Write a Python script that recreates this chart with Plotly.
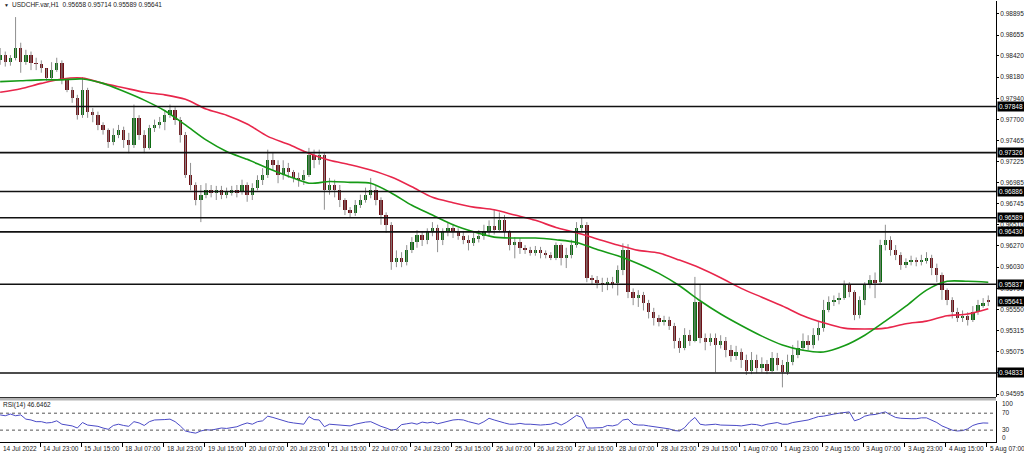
import plotly.graph_objects as go

symbol_name = "USDCHF.var,H1"
last_bar_ohlc = [0.95658, 0.95714, 0.95589, 0.95641]
rsi_title = "RSI(14) 46.6462"

# two-hour candles, prices in pips (1e-4)
open_pips = [
    9837, 9843, 9835, 9840, 9851, 9835, 9843, 9834, 9833, 9828,
    9817, 9826, 9834, 9815, 9803, 9794, 9775, 9803, 9779, 9775,
    9764, 9758, 9745, 9753, 9758, 9747, 9741, 9772, 9753, 9738,
    9760, 9764, 9767, 9775, 9781, 9770, 9753, 9707, 9696, 9679,
    9685, 9690, 9687, 9690, 9685, 9688, 9690, 9688, 9696, 9685,
    9693, 9702, 9707, 9724, 9719, 9707, 9715, 9711, 9704, 9702,
    9707, 9730, 9724, 9730, 9690, 9696, 9690, 9679, 9668, 9664,
    9673, 9679, 9685, 9690, 9679, 9662, 9651, 9609, 9613, 9609,
    9622, 9631, 9639, 9634, 9643, 9647, 9634, 9643, 9647, 9643,
    9638, 9634, 9630, 9636, 9638, 9643, 9650, 9645, 9656, 9643,
    9628, 9631, 9625, 9622, 9620, 9622, 9619, 9617, 9613, 9628,
    9613, 9617, 9628, 9647, 9651, 9591, 9588, 9585, 9583, 9586,
    9585, 9600, 9622, 9575, 9568, 9571, 9562, 9552, 9545, 9541,
    9543, 9537, 9520, 9511, 9526, 9520, 9564, 9523, 9518, 9523,
    9515, 9520, 9509, 9502, 9507, 9498, 9486, 9498, 9489, 9493,
    9486, 9500, 9492, 9484, 9496, 9504, 9511, 9520, 9515, 9526,
    9534, 9554, 9564, 9566, 9568, 9583, 9575, 9549, 9566, 9583,
    9588, 9586, 9628, 9634, 9622, 9617, 9605, 9609, 9611, 9609,
    9611, 9613, 9602, 9594, 9577, 9566, 9552, 9545, 9548, 9543,
    9552, 9560, 9566,
]
high_pips = [
    9851, 9847, 9843, 9886, 9857, 9849, 9847, 9840, 9837, 9828,
    9835, 9840, 9837, 9817, 9807, 9798, 9818, 9806, 9783, 9779,
    9767, 9760, 9760, 9764, 9762, 9755, 9787, 9775, 9758, 9764,
    9770, 9773, 9781, 9787, 9784, 9773, 9756, 9721, 9699, 9696,
    9698, 9696, 9695, 9695, 9693, 9695, 9696, 9702, 9699, 9698,
    9707, 9715, 9736, 9733, 9724, 9724, 9721, 9713, 9710, 9713,
    9738, 9736, 9736, 9732, 9704, 9702, 9696, 9681, 9671, 9679,
    9685, 9693, 9704, 9695, 9682, 9665, 9654, 9622, 9620, 9628,
    9637, 9645, 9643, 9647, 9654, 9651, 9647, 9654, 9652, 9647,
    9644, 9639, 9642, 9645, 9651, 9656, 9668, 9665, 9662, 9645,
    9637, 9636, 9628, 9626, 9627, 9626, 9622, 9620, 9631, 9630,
    9625, 9634, 9654, 9659, 9654, 9594, 9593, 9591, 9591, 9592,
    9605, 9630, 9629, 9579, 9577, 9575, 9566, 9557, 9549, 9548,
    9547, 9540, 9523, 9534, 9532, 9592, 9583, 9528, 9528, 9528,
    9526, 9524, 9515, 9514, 9511, 9504, 9507, 9504, 9501, 9498,
    9507, 9506, 9498, 9504, 9515, 9520, 9528, 9526, 9534, 9541,
    9566, 9570, 9571, 9574, 9588, 9586, 9577, 9570, 9586, 9594,
    9597, 9634, 9651, 9638, 9628, 9620, 9613, 9616, 9614, 9617,
    9620, 9617, 9607, 9597, 9579, 9569, 9557, 9554, 9552, 9559,
    9566, 9568, 9571,
]
low_pips = [
    9832, 9830, 9831, 9837, 9823, 9832, 9826, 9826, 9823, 9814,
    9815, 9824, 9810, 9801, 9789, 9770, 9772, 9772, 9767, 9758,
    9753, 9738, 9741, 9749, 9738, 9732, 9738, 9747, 9732, 9736,
    9756, 9760, 9758, 9772, 9764, 9744, 9704, 9690, 9673, 9654,
    9681, 9682, 9679, 9680, 9681, 9684, 9682, 9685, 9677, 9679,
    9690, 9696, 9704, 9713, 9698, 9702, 9704, 9699, 9694, 9696,
    9705, 9715, 9719, 9668, 9685, 9682, 9671, 9662, 9659, 9661,
    9670, 9676, 9681, 9673, 9651, 9642, 9600, 9603, 9603, 9605,
    9619, 9625, 9627, 9629, 9638, 9620, 9628, 9638, 9636, 9634,
    9629, 9622, 9627, 9631, 9634, 9638, 9640, 9643, 9637, 9622,
    9613, 9618, 9618, 9616, 9616, 9613, 9613, 9611, 9611, 9605,
    9602, 9613, 9625, 9643, 9586, 9584, 9579, 9575, 9577, 9579,
    9571, 9594, 9568, 9560, 9558, 9554, 9545, 9537, 9536, 9537,
    9532, 9511, 9506, 9509, 9514, 9518, 9517, 9509, 9514, 9484,
    9511, 9501, 9496, 9498, 9489, 9481, 9482, 9483, 9484, 9482,
    9484, 9486, 9467, 9481, 9492, 9500, 9509, 9509, 9511, 9520,
    9530, 9552, 9559, 9561, 9566, 9569, 9543, 9545, 9560, 9579,
    9568, 9583, 9622, 9616, 9611, 9600, 9602, 9605, 9604, 9605,
    9607, 9594, 9586, 9566, 9560, 9545, 9541, 9541, 9537, 9541,
    9549, 9557, 9559,
]
close_pips = [
    9843, 9835, 9840, 9851, 9835, 9843, 9834, 9833, 9828, 9817,
    9826, 9834, 9815, 9803, 9794, 9775, 9803, 9779, 9775, 9764,
    9758, 9745, 9753, 9758, 9747, 9741, 9772, 9753, 9738, 9760,
    9764, 9767, 9775, 9781, 9770, 9753, 9707, 9696, 9679, 9685,
    9690, 9687, 9690, 9685, 9688, 9690, 9688, 9696, 9685, 9693,
    9702, 9707, 9724, 9719, 9707, 9715, 9711, 9704, 9702, 9707,
    9730, 9724, 9730, 9690, 9696, 9690, 9679, 9668, 9664, 9673,
    9679, 9685, 9690, 9679, 9662, 9651, 9609, 9613, 9609, 9622,
    9631, 9639, 9634, 9643, 9647, 9634, 9643, 9647, 9643, 9638,
    9634, 9630, 9636, 9638, 9643, 9650, 9645, 9656, 9643, 9628,
    9631, 9625, 9622, 9620, 9622, 9619, 9617, 9613, 9628, 9613,
    9617, 9628, 9647, 9651, 9591, 9588, 9585, 9583, 9586, 9585,
    9600, 9622, 9575, 9568, 9571, 9562, 9552, 9545, 9541, 9543,
    9537, 9520, 9511, 9526, 9520, 9564, 9523, 9518, 9523, 9515,
    9520, 9509, 9502, 9507, 9498, 9486, 9498, 9489, 9493, 9486,
    9500, 9492, 9484, 9496, 9504, 9511, 9520, 9515, 9526, 9534,
    9554, 9564, 9566, 9568, 9583, 9575, 9549, 9566, 9583, 9588,
    9586, 9628, 9634, 9622, 9617, 9605, 9609, 9611, 9609, 9611,
    9613, 9602, 9594, 9577, 9566, 9552, 9545, 9548, 9543, 9552,
    9560, 9562, 9564,
]

# moving averages sampled every 8 hours, pips
ma_fast_pips = [
    9813, 9814, 9815, 9815, 9816, 9811, 9802, 9792, 9780, 9764,
    9747, 9734, 9725, 9715, 9706, 9698, 9700, 9699, 9698, 9687,
    9673, 9662, 9651, 9643, 9637, 9636, 9636, 9634, 9631, 9623,
    9616, 9607, 9596, 9582, 9565, 9550, 9537, 9525, 9515, 9509,
    9507, 9514, 9526, 9542, 9559, 9577, 9587, 9587, 9586,
]
ma_slow_pips = [
    9801, 9805, 9811, 9816, 9817, 9811, 9806, 9801, 9798, 9793,
    9782, 9775, 9765, 9751, 9742, 9732, 9724, 9719, 9713, 9705,
    9694, 9682, 9676, 9671, 9668, 9662, 9656, 9648, 9642, 9635,
    9628, 9622, 9619, 9611, 9602, 9591, 9579, 9569, 9559, 9548,
    9540, 9534, 9533, 9534, 9539, 9542, 9548, 9550, 9556,
]

# RSI(14), one value per two-hour candle
rsi_values = [
    66, 64, 68, 64, 66, 56, 54, 50, 50, 47,
    48, 52, 44, 42, 40, 35, 48, 42, 41, 39,
    35, 32, 41, 44, 41, 39, 50, 47, 41, 50,
    54, 54, 55, 56, 50, 40, 28, 25, 23, 28,
    31, 30, 33, 35, 34, 36, 38, 43, 47, 44,
    50, 52, 63, 60, 56, 52, 49, 47, 45, 44,
    62, 55, 54, 38, 44, 43, 41, 40, 40, 44,
    47, 49, 50, 44, 39, 35, 30, 32, 43, 45,
    47, 44, 49, 47, 49, 45, 48, 50, 54, 55,
    54, 50, 47, 44, 50, 58, 54, 50, 47, 44,
    44, 46, 44, 44, 43, 42, 43, 44, 48, 42,
    48, 56, 65, 60, 35, 35, 36, 36, 41, 40,
    43, 54, 56, 44, 42, 42, 40, 38, 36, 35,
    33, 29, 28, 36, 50, 60, 44, 42, 43, 44,
    42, 42, 41, 41, 40, 42, 44, 43, 40, 44,
    46, 48, 44, 44, 48, 50, 52, 54, 58, 62,
    63, 66, 68, 70, 71, 73, 52, 56, 63, 66,
    67, 70, 73, 66, 60, 58, 57, 57, 57, 59,
    59, 54, 48, 40, 35, 30, 28, 29, 33, 41,
    45, 47, 46.6,
]

level_prices = [0.97848, 0.97326, 0.96886, 0.96589, 0.96430, 0.95837, 0.94833]
price_ticks = [0.98895, 0.98655, 0.98420, 0.98180, 0.97940, 0.97700, 0.97465,
               0.97225, 0.96985, 0.96745, 0.96510, 0.96270, 0.96030, 0.95790,
               0.95550, 0.95315, 0.95075, 0.94835, 0.94595]
rsi_levels = [70, 30]
rsi_ticks = [100, 70, 30, 0]
time_labels = ["14 Jul 2022", "14 Jul 23:00", "15 Jul 15:00", "18 Jul 07:00",
               "18 Jul 23:00", "19 Jul 15:00", "20 Jul 07:00", "20 Jul 23:00",
               "21 Jul 15:00", "22 Jul 07:00", "24 Jul 23:00", "25 Jul 15:00",
               "26 Jul 07:00", "26 Jul 23:00", "27 Jul 15:00", "28 Jul 07:00",
               "28 Jul 23:00", "29 Jul 15:00", "1 Aug 07:00", "1 Aug 23:00",
               "2 Aug 15:00", "3 Aug 07:00", "3 Aug 23:00", "4 Aug 15:00",
               "5 Aug 07:00"]
HOURS_PER_CANDLE = 2
HOURS_PER_MA = 8
HOURS_PER_LABEL = 16

FONT = "Liberation Sans, Arial, sans-serif"
BULL = "#0d6b12"
BEAR = "#6e1016"
WICK = "#8f8f8f"
X_RANGE = [0.45, 387.5]

n = len(close_pips)
cx = [HOURS_PER_CANDLE * j + 0.5 for j in range(n)]
o = [v / 10000 for v in open_pips]
h = [v / 10000 for v in high_pips]
l = [v / 10000 for v in low_pips]
c = [v / 10000 for v in close_pips]

wx, wy = [], []
for xi, hi, lo in zip(cx, h, l):
    wx += [xi, xi, None]
    wy += [lo, hi, None]

base = [min(a, b) for a, b in zip(o, c)]
height = [max(abs(b - a), 0.00003) for a, b in zip(o, c)]
colors = [BULL if b >= a else BEAR for a, b in zip(o, c)]

fig = go.Figure()
fig.add_trace(go.Scatter(x=wx, y=wy, mode="lines", line=dict(color=WICK, width=1),
                         hoverinfo="skip", showlegend=False, xaxis="x", yaxis="y"))
fig.add_trace(go.Bar(x=cx, y=height, base=base, width=1.3,
                     marker=dict(color=colors, line=dict(width=0)),
                     hoverinfo="skip", showlegend=False, xaxis="x", yaxis="y"))

ma_x = [HOURS_PER_MA * k + 0.5 for k in range(len(ma_fast_pips))]
fig.add_trace(go.Scatter(x=ma_x, y=[v / 10000 for v in ma_slow_pips], mode="lines",
                         line=dict(color="#e8264b", width=1.6, shape="spline", smoothing=0.8),
                         hoverinfo="skip", showlegend=False, xaxis="x", yaxis="y"))
fig.add_trace(go.Scatter(x=ma_x, y=[v / 10000 for v in ma_fast_pips], mode="lines",
                         line=dict(color="#169a16", width=1.6, shape="spline", smoothing=0.8),
                         hoverinfo="skip", showlegend=False, xaxis="x", yaxis="y"))

fig.add_trace(go.Scatter(x=cx, y=rsi_values, mode="lines",
                         line=dict(color="#4a4ac6", width=1),
                         hoverinfo="skip", showlegend=False, xaxis="x", yaxis="y2"))

shapes = []
for lv in level_prices:
    shapes.append(dict(type="line", xref="paper", x0=0, x1=1, yref="y", y0=lv, y1=lv,
                       line=dict(color="#111111", width=1.6), layer="above"))
for rv in rsi_levels:
    shapes.append(dict(type="line", xref="paper", x0=0, x1=1, yref="y2", y0=rv, y1=rv,
                       line=dict(color="#555555", width=1, dash="dot")))
# panel separator
shapes.append(dict(type="rect", xref="paper", x0=0, x1=1, yref="paper",
                   y0=1 - 400.5 / 454, y1=1 - 397.5 / 454,
                   fillcolor="#b4b4b4", line=dict(width=0)))
shapes.append(dict(type="line", xref="paper", x0=0, x1=1, yref="paper",
                   y0=1 - 397.5 / 454, y1=1 - 397.5 / 454, line=dict(color="#333", width=1)))

annotations = []
for lv in level_prices + [last_bar_ohlc[3]]:
    annotations.append(dict(xref="paper", x=1, xanchor="left", xshift=1,
                            yref="y", y=lv, yanchor="middle", showarrow=False,
                            text=f"{lv:.5f}", bgcolor="#000000", borderpad=1,
                            font=dict(family=FONT, size=6.5, color="#ffffff")))
rsi_tick_pos = {100: 1 - 403 / 454, 70: 1 - 412.7 / 454, 30: 1 - 429.3 / 454, 0: 1 - 437.7 / 454}
for rt in rsi_ticks:
    annotations.append(dict(xref="paper", x=1, xanchor="left", xshift=4,
                            yref="paper", y=rsi_tick_pos[rt], yanchor="middle",
                            showarrow=False, text=str(rt),
                            font=dict(family=FONT, size=6.5, color="#222")))
span = X_RANGE[1] - X_RANGE[0]
for k, lab in enumerate(time_labels):
    pos = (k * HOURS_PER_LABEL - X_RANGE[0]) / span
    annotations.append(dict(xref="paper", x=max(pos, 0), xanchor="left", xshift=1,
                            yref="paper", y=1 - 443 / 454, yanchor="top",
                            showarrow=False, text=lab,
                            font=dict(family=FONT, size=6.5, color="#222")))
title_text = symbol_name + "  " + " ".join(f"{v:.5f}" for v in last_bar_ohlc)
annotations.append(dict(xref="paper", x=0, xanchor="left", xshift=2, yref="paper",
                        y=1 - 5 / 454, yanchor="middle", showarrow=False, text="\u25bc",
                        font=dict(family=FONT, size=5, color="#222")))
annotations.append(dict(xref="paper", x=0, xanchor="left", xshift=10, yref="paper",
                        y=1 - 5 / 454, yanchor="middle", showarrow=False, text=title_text,
                        font=dict(family=FONT, size=6.5, color="#222")))
annotations.append(dict(xref="paper", x=0, xanchor="left", xshift=1, yref="paper",
                        y=1 - 405 / 454, yanchor="middle", showarrow=False, text=rsi_title,
                        font=dict(family=FONT, size=6.5, color="#222")))

fig.update_layout(
    width=1024, height=454,
    margin=dict(l=0, r=28, t=0, b=0),
    paper_bgcolor="#ffffff", plot_bgcolor="#ffffff",
    barmode="overlay", bargap=0,
    shapes=shapes, annotations=annotations,
    xaxis=dict(domain=[0, 1], range=X_RANGE, anchor="y2",
               showgrid=False, zeroline=False, showline=True, linecolor="#000", linewidth=1,
               tickvals=[k * HOURS_PER_LABEL for k in range(len(time_labels))],
               ticktext=["" for _ in time_labels],
               ticks="outside", ticklen=4, tickcolor="#000", tickwidth=1),
    yaxis=dict(domain=[1 - 397 / 454, 1 - 1 / 454], range=[0.94561, 0.99042],
               side="right", showgrid=False, zeroline=False,
               showline=True, linecolor="#000", linewidth=1,
               tickvals=price_ticks, ticktext=[f"{t:.5f}" for t in price_ticks],
               ticks="outside", ticklen=2, tickcolor="#000",
               tickfont=dict(family=FONT, size=6.5, color="#222")),
    yaxis2=dict(domain=[1 - 442 / 454, 1 - 400.5 / 454], range=[2, 100],
                side="right", showgrid=False, zeroline=False,
                showline=True, linecolor="#000", linewidth=1,
                showticklabels=False, ticks=""),
)

fig.write_html("out.html", config={"displayModeBar": False},
               post_script="document.body.style.margin='0';document.body.style.overflow='hidden';")
